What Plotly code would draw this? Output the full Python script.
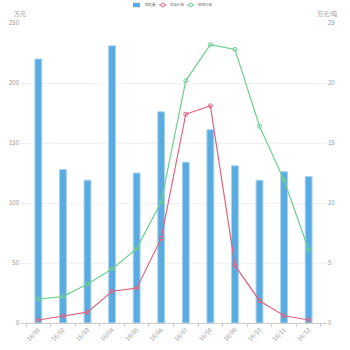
import plotly.graph_objects as go

months = ["16/01", "16/02", "16/03", "16/04", "16/05", "16/06",
          "16/07", "16/08", "16/09", "16/10", "16/11", "16/12"]
sales = [220, 128, 119, 231, 125, 176, 134, 161, 131, 119, 126, 122]
actual_price = [0.25, 0.58, 0.9, 2.65, 2.9, 7.05, 17.4, 18.1, 4.8, 1.86, 0.6, 0.25]
forecast_price = [2.0, 2.2, 3.25, 4.5, 6.2, 10.1, 20.2, 23.2, 22.8, 16.4, 11.9, 6.1]
left_ticks = [0, 50, 100, 150, 200, 250]
right_ticks = [0, 5, 10, 15, 20, 25]

FONT = "Noto Sans CJK SC, Noto Sans, sans-serif"
TICK = "#999999"
BAR_C = "#5aabe0"
RED = "#e06580"
GREEN = "#6ed08f"

W, H = 350, 350
ML, MR, MT, MB = 20, 23, 23, 27
PW, PH = W - ML - MR, H - MT - MB


def px(x):
    return (x - ML) / PW


def py(y):
    return (H - MB - y) / PH


fig = go.Figure()
fig.add_trace(go.Bar(
    x=months, y=sales, name="销售量",
    marker=dict(color=BAR_C, line=dict(color="#a9d3f0", width=1)),
))
fig.add_trace(go.Scatter(
    x=months, y=actual_price, name="实际价格", yaxis="y2",
    mode="lines+markers",
    line=dict(color=RED, width=1.2),
    marker=dict(symbol="circle-open", size=4, color=RED, line=dict(width=1)),
))
fig.add_trace(go.Scatter(
    x=months, y=forecast_price, name="预测价格", yaxis="y2",
    mode="lines+markers",
    line=dict(color=GREEN, width=1.2),
    marker=dict(symbol="circle-open", size=4, color=GREEN, line=dict(width=1)),
))

# compact legend drawn as shapes + text along the top edge
ly = 5
shapes = [
    dict(type="rect", xref="paper", yref="paper",
         x0=px(133), x1=px(140), y0=py(ly + 2.2), y1=py(ly - 2.2),
         fillcolor=BAR_C, line=dict(width=0)),
]
legend_text = [(142.5, "销售量")]
for x0, color, name in [(159, RED, "实际价格"), (187, GREEN, "预测价格")]:
    shapes.append(dict(type="line", xref="paper", yref="paper",
                       x0=px(x0), x1=px(x0 + 7.5), y0=py(ly), y1=py(ly),
                       line=dict(color=color, width=1)))
    shapes.append(dict(type="circle", xref="paper", yref="paper",
                       x0=px(x0 + 1.9), x1=px(x0 + 5.6),
                       y0=py(ly + 1.85), y1=py(ly - 1.85),
                       fillcolor="white", line=dict(color=color, width=1)))
    legend_text.append((x0 + 8.5, name))

annotations = [
    dict(text=t, xref="paper", yref="paper", x=px(x), y=py(ly),
         xanchor="left", yanchor="middle", showarrow=False,
         font=dict(size=3.5, color="#666666"))
    for x, t in legend_text
]
annotations += [
    dict(text="万元", xref="paper", yref="paper", x=0, y=1.01,
         xanchor="center", yanchor="bottom", showarrow=False,
         font=dict(size=6, color=TICK)),
    dict(text="万元/吨", xref="paper", yref="paper", x=1.0, y=1.01,
         xanchor="center", yanchor="bottom", showarrow=False,
         font=dict(size=6, color=TICK)),
]

fig.update_layout(
    width=W, height=H,
    margin=dict(l=ML, r=MR, t=MT, b=MB, autoexpand=False),
    paper_bgcolor="white", plot_bgcolor="white",
    font=dict(family=FONT, size=7, color=TICK),
    bargap=0.72,
    showlegend=False,
    shapes=shapes,
    annotations=annotations,
    xaxis=dict(
        type="category", tickangle=-45, tickfont=dict(size=6, color=TICK),
        showline=True, linecolor="#cccccc", linewidth=1,
        ticks="outside", tickcolor="#cccccc", ticklen=3,
        showgrid=False, tickson="boundaries", automargin=False,
    ),
    yaxis=dict(
        range=[0, 250], tickvals=left_ticks, tickfont=dict(size=6, color=TICK),
        showgrid=True, gridcolor="#f0f0f6", gridwidth=1,
        zeroline=False, showline=False, ticks="", automargin=False,
    ),
    yaxis2=dict(
        range=[0, 25], tickvals=right_ticks, tickfont=dict(size=6, color=TICK),
        overlaying="y", side="right", showgrid=False,
        zeroline=False, showline=False, ticks="", automargin=False,
    ),
)

fig.write_html("out.html")
